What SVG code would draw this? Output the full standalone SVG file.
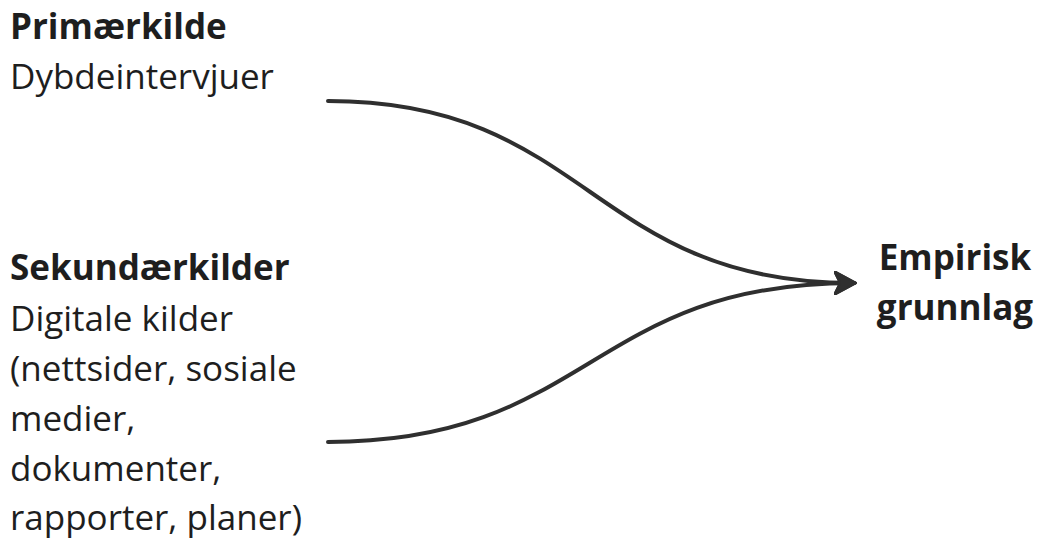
<svg xmlns="http://www.w3.org/2000/svg" width="1038" height="541" viewBox="0 0 1038 541">
<style>
text{font-family:"Open Sans","Noto Sans",sans-serif;font-size:35px;fill:#1e1e1e}
.b{font-weight:700}
.e{fill:none;stroke:#2f2f2f;stroke-width:4;stroke-linecap:round}
</style>
<defs>
<marker id="ah" viewBox="0 0 12 12" refX="10" refY="6" markerWidth="6" markerHeight="6" markerUnits="strokeWidth" orient="auto">
<path d="M0,0 L11,6 L0,12 L3,6 Z" fill="#2f2f2f" stroke="#2f2f2f" stroke-width="1" stroke-linejoin="round"/>
</marker>
</defs>
<rect width="1038" height="541" fill="#fff"/>
<g id="edges">
<path class="e" d="M328,101 C590,101 590,283 854,283" marker-end="url(#ah)"/>
<path class="e" d="M328,442 C590,442 590,283 854,283" marker-end="url(#ah)"/>
</g>
<g id="primar">
<text x="10" y="39" class="b">Primærkilde</text>
<text x="10" y="89">Dybdeintervjuer</text>
</g>
<g id="sekundar">
<text x="10" y="280" class="b">Sekundærkilder</text>
<text x="10" y="331">Digitale kilder</text>
<text x="10" y="381">(nettsider, sosiale</text>
<text x="10" y="431">medier,</text>
<text x="10" y="481">dokumenter,</text>
<text x="10" y="530">rapporter, planer)</text>
</g>
<g id="empirisk">
<text x="955" y="270" class="b" text-anchor="middle">Empirisk</text>
<text x="955" y="320" class="b" text-anchor="middle">grunnlag</text>
</g>
</svg>
